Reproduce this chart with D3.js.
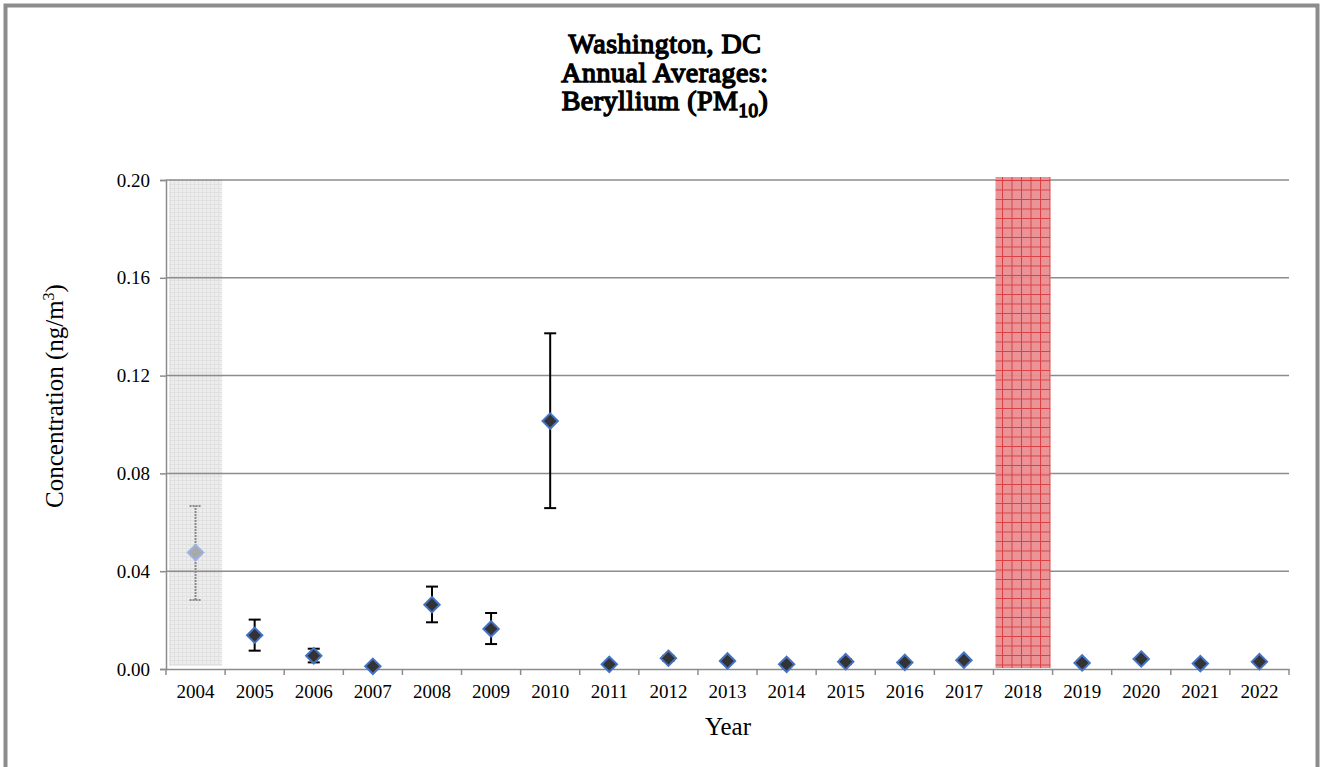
<!DOCTYPE html>
<html>
<head>
<meta charset="utf-8">
<script src="https://cdn.jsdelivr.net/npm/d3@7"></script>
<style>
body { margin: 0; background: #fff; }
svg { display: block; font-family: "Liberation Serif", "Times New Roman", serif; }
</style>
</head>
<body>
<div id="chart"></div>
<script>
// data
var years = ["2004","2005","2006","2007","2008","2009","2010","2011","2012","2013",
             "2014","2015","2016","2017","2018","2019","2020","2021","2022"];
var means = [0.0476, 0.0138, 0.0054, 0.0011, 0.0263, 0.0164, 0.1014, 0.0019, 0.0044, 0.0033,
             0.0019, 0.0030, 0.0027, 0.0036, null, 0.0025, 0.0041, 0.0022, 0.0030];
var errLow = [0.0282, 0.0075, 0.0027, 0.0011, 0.0191, 0.0102, 0.0658, 0.0019, 0.0034, 0.0033,
              0.0019, 0.0020, 0.0027, 0.0036, null, 0.0025, 0.0041, 0.0022, 0.0030];
var errHigh = [0.0667, 0.0202, 0.0083, 0.0011, 0.0337, 0.0229, 0.1373, 0.0019, 0.0054, 0.0033,
               0.0019, 0.0040, 0.0027, 0.0036, null, 0.0025, 0.0041, 0.0022, 0.0030];
var yTicks = [0, 0.04, 0.08, 0.12, 0.16, 0.20];
var greyYears = ["2004"];
var redYears = ["2018"];

var W = 1321, H = 767;
var margin = {top: 180, right: 32, bottom: 98, left: 166},
    width = W - margin.left - margin.right,
    height = H - margin.top - margin.bottom;
var serif = "'Liberation Serif', 'Times New Roman', serif";

var svg = d3.select("#chart").append("svg")
    .attr("width", W).attr("height", H);

var defs = svg.append("defs");
var gp = defs.append("pattern").attr("id", "greyPat")
    .attr("patternUnits", "userSpaceOnUse").attr("width", 4).attr("height", 4);
gp.append("rect").attr("width", 4).attr("height", 4).attr("fill", "#ededed");
gp.append("path").attr("d", "M0,0.5H4M0.5,0V4").attr("stroke", "#e0e0e0").attr("stroke-width", 1);
var rp = defs.append("pattern").attr("id", "redPat")
    .attr("patternUnits", "userSpaceOnUse").attr("width", 9.5).attr("height", 9.5);
rp.append("rect").attr("width", 9.5).attr("height", 9.5).attr("fill", "#e98e91");
rp.append("path").attr("d", "M0,0.5H9.5M0.5,0V9.5").attr("stroke", "#d8363a").attr("stroke-width", 1);

// outer frame
svg.append("rect")
    .attr("x", 5.5).attr("y", 5.5).attr("width", W - 9).attr("height", H + 20)
    .attr("fill", "none").attr("stroke", "#8c8c8c").attr("stroke-width", 4);

// title (serif, thickened with a stroke)
var title = svg.append("text")
    .attr("text-anchor", "middle")
    .style("font-family", serif)
    .style("font-size", "28px")
    .attr("fill", "#000").attr("stroke", "#000").attr("stroke-width", 1.4)
    .attr("letter-spacing", 0.5);
title.append("tspan").attr("x", 665).attr("y", 53).text("Washington, DC");
title.append("tspan").attr("x", 665).attr("y", 82).text("Annual Averages:");
var t3 = title.append("tspan").attr("x", 665).attr("y", 110).text("Beryllium (PM");
t3.append("tspan").attr("dy", 7).style("font-size", "19px").text("10");
t3.append("tspan").attr("dy", -7).text(")");

var g = svg.append("g")
    .attr("transform", "translate(" + margin.left + "," + margin.top + ")");

var x = d3.scaleBand().domain(years).range([0, width]).padding(0);
var y = d3.scaleLinear().domain([0, 0.20]).range([height, 0]);

// shaded years
g.selectAll(".grey").data(greyYears).enter().append("rect")
    .attr("x", function(d){ return x(d) + 3; })
    .attr("y", -1)
    .attr("width", x.bandwidth() - 6)
    .attr("height", height - 2)
    .attr("fill", "url(#greyPat)");

// gridlines
g.selectAll(".grid").data(yTicks.slice(1)).enter().append("line")
    .attr("x1", 0).attr("x2", width)
    .attr("y1", function(d){ return y(d); }).attr("y2", function(d){ return y(d); })
    .attr("stroke", "#8c8c8c").attr("stroke-width", 1.5);

g.selectAll(".red").data(redYears).enter().append("rect")
    .attr("x", function(d){ return x(d) + 2; })
    .attr("y", -3)
    .attr("width", x.bandwidth() - 4)
    .attr("height", height + 2)
    .attr("fill", "url(#redPat)")
    .attr("opacity", 0.95);

// axes
var yAxis = g.append("g")
    .call(d3.axisLeft(y).tickValues(yTicks).tickSize(6).tickPadding(10)
          .tickFormat(d3.format(".2f")));
var xAxis = g.append("g").attr("transform", "translate(0," + height + ")")
    .call(d3.axisBottom(x).tickSize(0).tickPadding(16));
[yAxis, xAxis].forEach(function(a){
    a.select(".domain").attr("stroke", "#8c8c8c").attr("stroke-width", 1.5);
    a.selectAll("line").attr("stroke", "#8c8c8c").attr("stroke-width", 1.5);
    a.selectAll("text").attr("fill", "#000").style("font-size", "19px")
        .style("font-family", serif);
});
// x tick marks at category boundaries
g.selectAll(".xt").data(years.concat(["end"])).enter().append("line")
    .attr("x1", function(d, i){ return i * x.step(); })
    .attr("x2", function(d, i){ return i * x.step(); })
    .attr("y1", height).attr("y2", height + 6)
    .attr("stroke", "#8c8c8c").attr("stroke-width", 1.5);

// axis labels
svg.append("text")
    .attr("transform", "translate(63,396) rotate(-90)")
    .attr("text-anchor", "middle").style("font-size", "25px").style("font-family", serif)
    .html("Concentration (ng/m<tspan dy='-9' style='font-size:16px'>3</tspan><tspan dy='9'>)</tspan>");
svg.append("text")
    .attr("x", 728).attr("y", 735)
    .attr("text-anchor", "middle").style("font-size", "25px").style("font-family", serif)
    .text("Year");

// error bars and markers
var pts = years.map(function(yr, i){
    return {year: yr, v: means[i], lo: errLow[i], hi: errHigh[i], faded: greyYears.indexOf(yr) >= 0};
}).filter(function(d){ return d.v !== null; });

var eb = g.selectAll(".eb").data(pts.filter(function(d){ return d.hi - d.lo > 0.0005; }))
    .enter().append("g");
eb.append("line")
    .attr("x1", function(d){ return x(d.year) + x.bandwidth() / 2; })
    .attr("x2", function(d){ return x(d.year) + x.bandwidth() / 2; })
    .attr("y1", function(d){ return y(d.lo); }).attr("y2", function(d){ return y(d.hi); });
eb.append("line")
    .attr("x1", function(d){ return x(d.year) + x.bandwidth() / 2 - 6; })
    .attr("x2", function(d){ return x(d.year) + x.bandwidth() / 2 + 6; })
    .attr("y1", function(d){ return y(d.hi); }).attr("y2", function(d){ return y(d.hi); });
eb.append("line")
    .attr("x1", function(d){ return x(d.year) + x.bandwidth() / 2 - 6; })
    .attr("x2", function(d){ return x(d.year) + x.bandwidth() / 2 + 6; })
    .attr("y1", function(d){ return y(d.lo); }).attr("y2", function(d){ return y(d.lo); });
eb.selectAll("line")
    .attr("stroke", function(d){ return d.faded ? "#8a8a8a" : "#000"; })
    .attr("stroke-width", 2)
    .attr("stroke-dasharray", function(d){ return d.faded ? "2,1" : null; });

var sym = d3.symbol().type(d3.symbolDiamond2).size(150);
g.selectAll(".pt").data(pts).enter().append("path")
    .attr("d", sym)
    .attr("transform", function(d){
        return "translate(" + (x(d.year) + x.bandwidth() / 2) + "," + y(d.v) + ")";
    })
    .attr("fill", function(d){ return d.faded ? "#a9a9a9" : "#333"; })
    .attr("stroke", function(d){ return d.faded ? "#9cb3de" : "#4472c4"; })
    .attr("stroke-width", 2);
</script>
</body>
</html>
